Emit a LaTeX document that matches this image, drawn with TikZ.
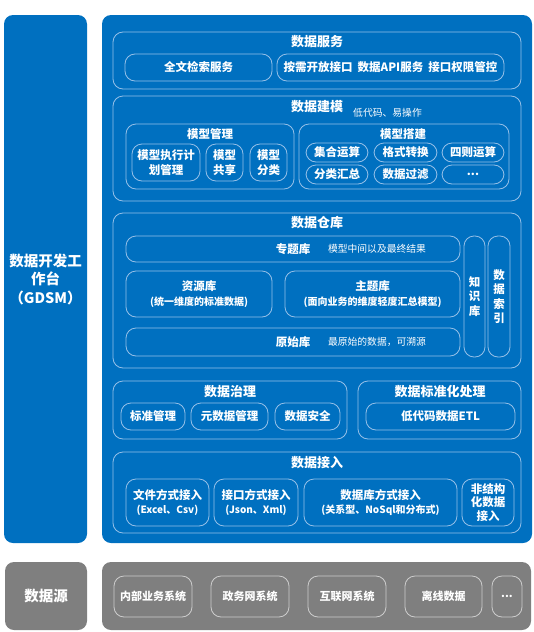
\documentclass[tikz,border=0pt]{standalone}
\usepackage{fontspec}
\setmainfont{Noto Sans CJK SC}
\usetikzlibrary{fit}
\lineskiplimit=-50pt
\definecolor{myblue}{RGB}{0,112,192}
\definecolor{myline}{RGB}{150,192,232}
\definecolor{mygray}{RGB}{127,127,127}
\definecolor{grayline}{RGB}{205,205,205}
\tikzset{
  back/.style={rounded corners=9pt, inner sep=0pt},
  frame/.style={draw=myline, line width=0.8pt, rounded corners=10pt, inner sep=0pt},
  gframe/.style={frame, draw=grayline},
  boxtext/.style={text=white, inner sep=0pt, align=center, font=\bfseries\fontsize{11.5}{14.5}\selectfont},
  txt/.style={label={[boxtext]center:{#1}}},
  gtxt/.style={label={[boxtext, font=\bfseries\fontsize{11}{13}\selectfont]center:{#1}}},
  title/.style={text=white, inner sep=0pt, font=\bfseries\fontsize{13}{15}\selectfont},
  subtitle/.style={text=white, inner sep=0pt, font=\bfseries\fontsize{11.5}{14}\selectfont},
  note/.style={text=white, inner sep=0pt, font=\fontsize{9.8}{12}\selectfont},
}
\newcommand{\smalltxt}{\fontsize{10}{12}\selectfont}
\begin{document}
\begin{tikzpicture}[x=1pt, y=-1pt]
\useasboundingbox (0,0) rectangle (533,632);
\node[back, fill=myblue, fit={(4,15) (87,543)},
  label={[boxtext, font=\bfseries\fontsize{14.5}{18.5}\selectfont]center:{数据开发工\\作台\\（GDSM）}}] (gdsm) {};
\node[back, fill=myblue, fit={(102,15) (532,543)}] (main) {};

\node[frame, fit={(113,32) (521,89)}] (fuwu) {};
\node[title] (fuwut) at (317,42) {数据服务};
\node[frame, fit={(125,54) (272,81)}, txt={全文检索服务}] (jiansuo) {};
\node[frame, fit={(277,54) (504,81)}, txt={按需开放接口\hspace{5pt}数据API服务\hspace{5pt}接口权限管控}] (jiekou) {};

\node[frame, fit={(113,96) (521,201)}] (jianmo) {};
\node[title] (jianmot) at (317,107) {数据建模};
\node[note, anchor=west] (jianmon) at (353,113) {低代码、易操作};
\node[frame, fit={(126,124) (294,189)}] (guanli) {};
\node[subtitle] (guanlit) at (210,134) {模型管理};
\node[frame, fit={(132,144) (200,181)}, txt={模型执行计\\划管理}] (zhixing) {};
\node[frame, fit={(206,144) (243,181)}, txt={模型\\共享}] (gongxiang) {};
\node[frame, fit={(250,144) (287,181)}, txt={模型\\分类}] (fenlei) {};
\node[frame, fit={(299,124) (509,189)}] (dajian) {};
\node[subtitle] (dajiant) at (403,134) {模型搭建};
\node[frame, fit={(306,143) (368,162)}, txt={集合运算}] (jihe) {};
\node[frame, fit={(374,143) (437,162)}, txt={格式转换}] (geshi) {};
\node[frame, fit={(442,143) (504,162)}, txt={四则运算}] (sice) {};
\node[frame, fit={(306,165) (368,184)}, txt={分类汇总}] (huizong) {};
\node[frame, fit={(374,165) (437,184)}, txt={数据过滤}] (guolv) {};
\node[frame, fit={(442,165) (504,184)}, txt={...}] (gengduo) {};

\node[frame, fit={(113,213) (521,368)}] (cangku) {};
\node[title] (cangkut) at (317,223) {数据仓库};
\node[frame, fit={(126,236) (460,262)}] (zhuanti) {};
\node[subtitle] (zhuantit) at (293,249) {专题库};
\node[note] (zhuantin) at (377,249) {模型中间以及最终结果};
\node[frame, fit={(126,271) (272,317)}, txt={资源库\\{\smalltxt (统一维度的标准数据)}}] (ziyuan) {};
\node[frame, fit={(285,271) (460,317)}, txt={主题库\\{\smalltxt (面向业务的维度轻度汇总模型)}}] (zhuti) {};
\node[frame, fit={(126,328) (460,356)}] (yuanshi) {};
\node[subtitle] (yuanshit) at (293,342) {原始库};
\node[note] (yuanshin) at (377,342) {最原始的数据，可溯源};
\node[frame, fit={(464,236) (485,357)}, txt={知\\识\\库}] (zhishi) {};
\node[frame, fit={(488,236) (510,357)}, txt={数\\据\\索\\引}] (suoyin) {};

\node[frame, fit={(113,381) (347,439)}] (zhili) {};
\node[title] (zhilit) at (230,392) {数据治理};
\node[frame, fit={(121,403) (185,430)}, txt={标准管理}] (biaozhun) {};
\node[frame, fit={(191,403) (268,430)}, txt={元数据管理}] (yuan) {};
\node[frame, fit={(275,403) (340,430)}, txt={数据安全}] (anquan) {};
\node[frame, fit={(358,381) (521,439)}] (bzh) {};
\node[title] (bzht) at (440,392) {数据标准化处理};
\node[frame, fit={(366,403) (515,430)}, txt={低代码数据ETL}] (etl) {};

\node[frame, fit={(113,452) (521,533)}] (jieru) {};
\node[title] (jierut) at (317,463) {数据接入};
\node[frame, fit={(126,479) (209,526)}, txt={文件方式接入\\{\smalltxt (Excel、Csv)}}] (wenjian) {};
\node[frame, fit={(214,479) (298,526)}, txt={接口方式接入\\{\smalltxt (Json、Xml)}}] (jkjr) {};
\node[frame, fit={(304,479) (457,526)}, txt={数据库方式接入\\{\smalltxt (关系型、NoSql和分布式)}}] (sjk) {};
\node[frame, fit={(462,479) (514,526)},
  label={[boxtext, font=\bfseries\fontsize{11.5}{13.5}\selectfont]center:{非结构\\化数据\\接入}}] (fjg) {};

\node[back, fill=mygray, fit={(5,562) (87,630)},
  label={[boxtext, font=\bfseries\fontsize{14.5}{17}\selectfont]center:{数据源}}] (shujuyuan) {};
\node[back, fill=mygray, fit={(102,562) (531,630)}] (laiyuan) {};
\node[gframe, fit={(114,576) (192,617)}, gtxt={内部业务系统}] (neibu) {};
\node[gframe, fit={(211,576) (289,617)}, gtxt={政务网系统}] (zhengwu) {};
\node[gframe, fit={(308,576) (386,617)}, gtxt={互联网系统}] (hulian) {};
\node[gframe, fit={(405,576) (482,617)}, gtxt={离线数据}] (lixian) {};
\node[gframe, fit={(492,576) (522,617)}, gtxt={...}] (qita) {};
\end{tikzpicture}
\end{document}
